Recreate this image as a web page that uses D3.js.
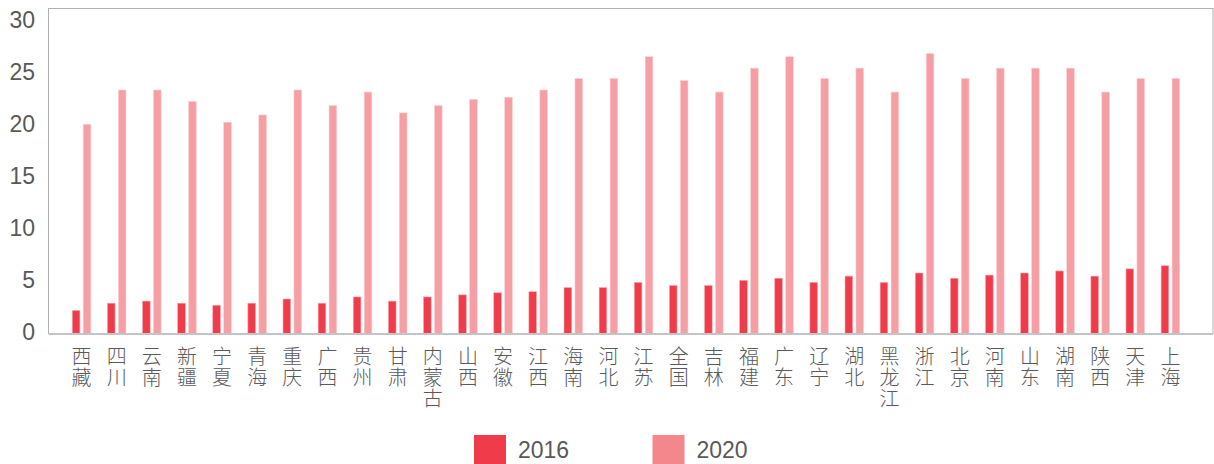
<!DOCTYPE html>
<html>
<head>
<meta charset="utf-8">
<script src="https://cdn.jsdelivr.net/npm/d3@7"></script>
<style>
  body { margin: 0; background: #fff; }
  svg { display: block; }
  text { fill: #595959; }
</style>
</head>
<body>
<svg class="svg" width="1214" height="464"></svg>
<script>
// chart data
var regions = ['西藏', '四川', '云南', '新疆', '宁夏', '青海', '重庆', '广西', '贵州', '甘肃',
  '内蒙古', '山西', '安徽', '江西', '海南', '河北', '江苏', '全国', '吉林', '福建',
  '广东', '辽宁', '湖北', '黑龙江', '浙江', '北京', '河南', '山东', '湖南', '陕西', '天津', '上海'];
var values2016 = [2.1, 2.8, 3.0, 2.8, 2.6, 2.8, 3.2, 2.8, 3.4, 3.0,
  3.4, 3.6, 3.8, 3.9, 4.3, 4.3, 4.8, 4.5, 4.5, 5.0,
  5.2, 4.8, 5.4, 4.8, 5.7, 5.2, 5.5, 5.7, 5.9, 5.4, 6.1, 6.4];
var values2020 = [20.0, 23.3, 23.3, 22.2, 20.2, 20.9, 23.3, 21.8, 23.1, 21.1,
  21.8, 22.4, 22.6, 23.3, 24.4, 24.4, 26.5, 24.2, 23.1, 25.4,
  26.5, 24.4, 25.4, 23.1, 26.8, 24.4, 25.4, 25.4, 25.4, 23.1, 24.4, 24.4];
var seriesNames = ['2016', '2020'];
var yTicks = [0, 5, 10, 15, 20, 25, 30];

var barColors = ['#ef3b4a', '#f59ea4'];
var legendColors = ['#ef3b4a', '#f4878b'];

var svg = d3.select('.svg');

// frame of the plot area
var frame = { left: 48.5, top: 8.5, right: 1213, bottom: 333.5 };

var x = d3.scaleBand()
  .domain(regions)
  .range([64, 1188]);

var xInner = d3.scaleBand()
  .domain(seriesNames)
  .range([x.bandwidth() / 2 - 9.3, x.bandwidth() / 2 + 9.3])
  .paddingInner(0.3);

var y = d3.scaleLinear()
  .domain([0, 30])
  .range([332.3, 20.3]);

// border
svg.append('rect')
  .attr('x', frame.left)
  .attr('y', frame.top)
  .attr('width', frame.right - frame.left)
  .attr('height', frame.bottom - frame.top)
  .attr('fill', 'none')
  .attr('stroke', '#b0b0b0')
  .attr('stroke-width', 1);

// bars
var rows = regions.map((r, i) => ({ region: r, values: [values2016[i], values2020[i]] }));

var groups = svg.selectAll('.group')
  .data(rows)
  .enter().append('g')
  .attr('class', 'group')
  .attr('transform', d => 'translate(' + x(d.region) + ',0)');

groups.selectAll('rect')
  .data(d => d.values.map((v, k) => ({ key: seriesNames[k], value: v, k: k })))
  .enter().append('rect')
  .attr('x', d => xInner(d.key))
  .attr('width', xInner.bandwidth())
  .attr('y', d => y(d.value))
  .attr('height', d => y(0) - y(d.value) + 1)
  .attr('fill', d => barColors[d.k])
  .attr('stroke', d => d.k ? '#fbd0d3' : '#f7a9b0')
  .attr('stroke-width', 0.6);

// bottom axis line
svg.append('line')
  .attr('x1', frame.left)
  .attr('x2', frame.right)
  .attr('y1', 334)
  .attr('y2', 334)
  .attr('stroke', '#c4c4c4')
  .attr('stroke-width', 2);

// y axis labels
var yAxis = d3.axisLeft(y).tickValues(yTicks).tickSize(0).tickPadding(0);
var yg = svg.append('g')
  .attr('transform', 'translate(35,0)')
  .call(yAxis);
yg.select('.domain').remove();
yg.selectAll('text')
  .attr('font-family', '"Liberation Sans", Arial, sans-serif')
  .attr('font-size', 23)
  .attr('fill', '#595959');

// x labels, one character per line
var charGap = 21;
svg.selectAll('.xlabel')
  .data(regions)
  .enter().append('g')
  .attr('class', 'xlabel')
  .attr('transform', d => 'translate(' + (x(d) + x.bandwidth() / 2) + ',0)')
  .selectAll('text')
  .data(d => d.split(''))
  .enter().append('text')
  .attr('y', (d, i) => 363.5 + i * charGap)
  .attr('font-family', '"Noto Sans CJK SC", sans-serif')
  .attr('font-weight', 300)
  .attr('font-size', 20)
  .attr('text-anchor', 'middle')
  .text(d => d);

// legend
var legendX = [474, 652.5];
var legend = svg.selectAll('.legend')
  .data(seriesNames)
  .enter().append('g')
  .attr('class', 'legend')
  .attr('transform', (d, i) => 'translate(' + legendX[i] + ',435)');

legend.append('rect')
  .attr('width', 32)
  .attr('height', 30)
  .attr('fill', (d, i) => legendColors[i]);

legend.append('text')
  .attr('x', 44)
  .attr('y', 23)
  .attr('font-family', '"Liberation Sans", Arial, sans-serif')
  .attr('font-size', 23)
  .attr('fill', '#595959')
  .text(d => d);
</script>
</body>
</html>
